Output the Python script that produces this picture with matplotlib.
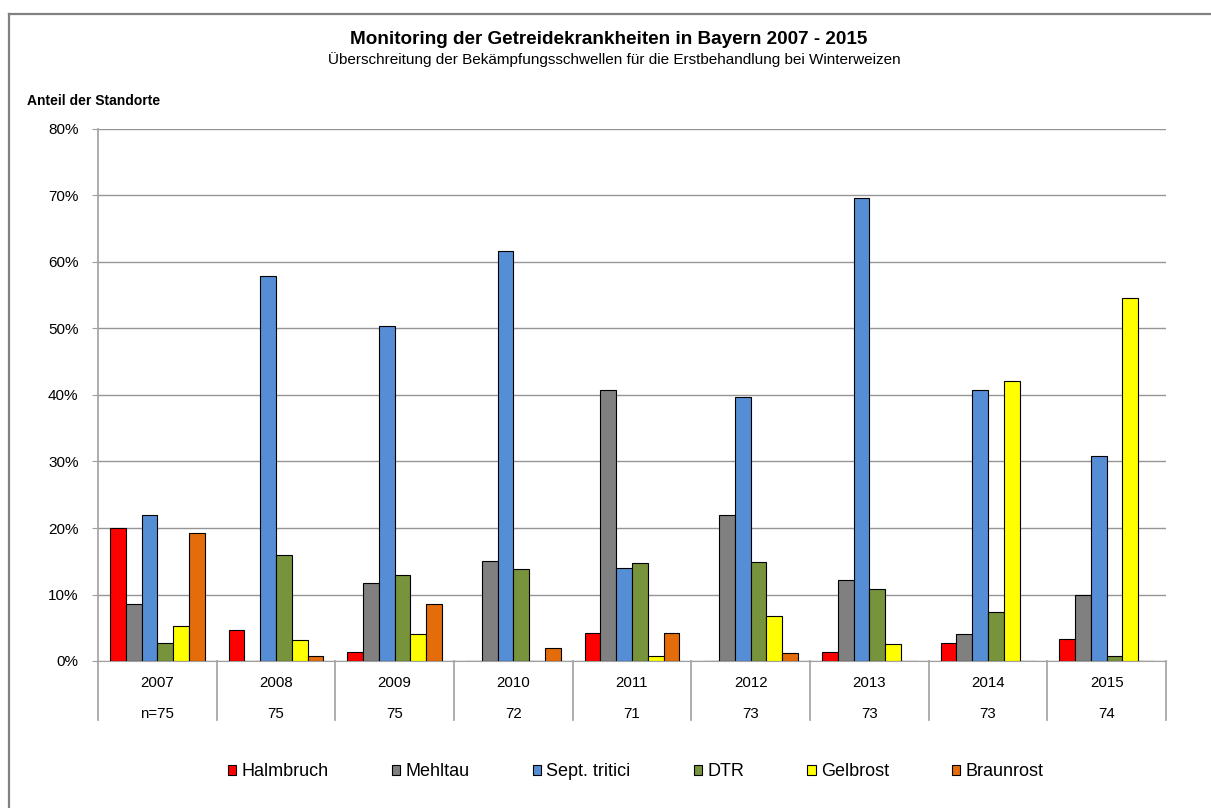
import matplotlib
matplotlib.use('Agg')
import matplotlib.pyplot as plt
from matplotlib.patches import Patch
from matplotlib.lines import Line2D
from matplotlib.ticker import FuncFormatter
import numpy as np

plt.rcParams['font.family'] = ['Liberation Sans', 'DejaVu Sans']

# years and number of sites
years = ['2007', '2008', '2009', '2010', '2011', '2012', '2013', '2014', '2015']
n_sites = ['n=75', '75', '75', '72', '71', '73', '73', '73', '74']

diseases = ['Halmbruch', 'Mehltau', 'Sept. tritici', 'DTR', 'Gelbrost', 'Braunrost']
colors = ['#FF0000', '#808080', '#558ED5', '#77933C', '#FFFF00', '#E46C0A']

# share of sites above threshold (fraction)
halmbruch = [0.200, 0.046, 0.013, 0.000, 0.042, 0.000, 0.013, 0.027, 0.033]
mehltau   = [0.086, 0.000, 0.117, 0.150, 0.408, 0.219, 0.122, 0.040, 0.100]
septoria  = [0.220, 0.579, 0.504, 0.616, 0.140, 0.397, 0.696, 0.408, 0.309]
dtr       = [0.027, 0.159, 0.129, 0.138, 0.148, 0.149, 0.109, 0.073, 0.007]
gelbrost  = [0.053, 0.032, 0.040, 0.000, 0.007, 0.067, 0.025, 0.421, 0.546]
braunrost = [0.192, 0.007, 0.086, 0.019, 0.042, 0.012, 0.000, 0.000, 0.000]

series = [halmbruch, mehltau, septoria, dtr, gelbrost, braunrost]

W, H = 1211, 808
fig = plt.figure(figsize=(W / 100, H / 100), dpi=100)
ax = fig.add_axes([98 / W, 1 - 661 / H, (1166 - 98) / W, (661 - 129) / H])

x = np.arange(len(years))
bw = 1 / 7.5
for i, (vals, col) in enumerate(zip(series, colors)):
    ax.bar(x + (i - 2.5) * bw, vals, bw, color=col, edgecolor='black', linewidth=0.8, zorder=3)

ax.set_xlim(-0.5, len(years) - 0.5)
ax.set_ylim(0, 0.8)
ax.set_yticks(np.arange(0, 0.81, 0.1))
ax.yaxis.set_major_formatter(FuncFormatter(lambda v, p: '%d%%' % round(v * 100)))
ax.yaxis.grid(True, color='#959595', linewidth=1.0, zorder=0)
ax.tick_params(axis='y', length=4, color='#A0A0A0', labelsize=11, pad=10)
ax.tick_params(axis='x', bottom=False, labelbottom=False)
for s in ['top', 'right']:
    ax.spines[s].set_visible(False)
ax.spines['left'].set_color('#A0A0A0')
ax.spines['bottom'].set_color('#A0A0A0')
ax.spines['left'].set_linewidth(1.2)

# table under the axis
tr = ax.get_xaxis_transform()
y_low = -(720 - 661) / 532
for b in np.arange(-0.5, len(years), 1.0):
    ax.plot([b, b], [0, y_low], transform=tr, color='#A0A0A0', linewidth=1.2, clip_on=False)
for xi, yr, nn in zip(x, years, n_sites):
    ax.text(xi, -(683 - 661) / 532, yr, transform=tr, ha='center', va='center', fontsize=10.8)
    ax.text(xi, -(714 - 661) / 532, nn, transform=tr, ha='center', va='center', fontsize=10.8)

# titles
fig.text(0.503, 1 - 39 / H, 'Monitoring der Getreidekrankheiten in Bayern 2007 - 2015',
         ha='center', va='center', fontsize=13.6, fontweight='bold')
fig.text(0.507, 1 - 60 / H,
         '\u00dcberschreitung der Bek\u00e4mpfungsschwellen f\u00fcr die Erstbehandlung bei Winterweizen',
         ha='center', va='center', fontsize=11)
fig.text(27 / W, 1 - 101 / H, 'Anteil der Standorte', ha='left', va='center',
         fontsize=10, fontweight='bold')

# legend
handles = [Patch(facecolor=c, edgecolor='black', linewidth=0.8) for c in colors]
fig.legend(handles, diseases, loc='center', bbox_to_anchor=(636 / W, 1 - 772 / H), ncol=6,
           frameon=False, fontsize=13, handlelength=0.45, handleheight=0.45,
           handletextpad=0.3, columnspacing=3.5)

# outer chart border (top and left visible)
fig.add_artist(Line2D([9 / W, 1.0], [1 - 14 / H, 1 - 14 / H], transform=fig.transFigure,
                      color='#808080', linewidth=1.6))
fig.add_artist(Line2D([9 / W, 9 / W], [1 - 14 / H, 0.0], transform=fig.transFigure,
                      color='#808080', linewidth=1.6))

fig.savefig('out.png', dpi=100)
